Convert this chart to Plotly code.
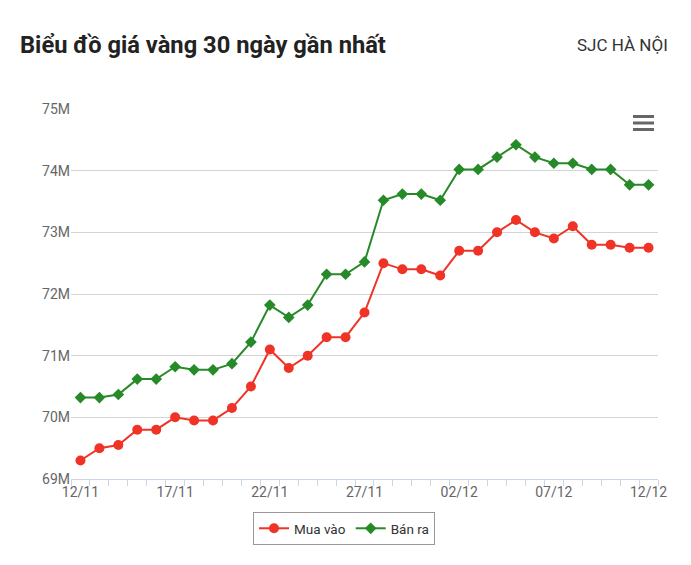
import plotly.graph_objects as go

dates = ["12/11","13/11","14/11","15/11","16/11","17/11","18/11","19/11","20/11","21/11",
         "22/11","23/11","24/11","25/11","26/11","27/11","28/11","29/11","30/11","01/12",
         "02/12","03/12","04/12","05/12","06/12","07/12","08/12","09/12","10/12","11/12","12/12"]
mua_vao = [69.30,69.50,69.55,69.80,69.80,70.00,69.95,69.95,70.15,70.50,
           71.10,70.80,71.00,71.30,71.30,71.70,72.50,72.40,72.40,72.30,
           72.70,72.70,73.00,73.20,73.00,72.90,73.10,72.80,72.80,72.75,72.75]
ban_ra = [70.32,70.32,70.37,70.62,70.62,70.82,70.77,70.77,70.87,71.22,
          71.82,71.62,71.82,72.32,72.32,72.52,73.52,73.62,73.62,73.52,
          74.02,74.02,74.22,74.42,74.22,74.12,74.12,74.02,74.02,73.77,73.77]
y_ticks = [69,70,71,72,73,74,75]
y_labels = ["69M","70M","71M","72M","73M","74M","75M"]

idx = list(range(len(dates)))
label_idx = idx[::5]

W, H = 691, 565
L, R, T, B = 71, 33, 109, 86

fig = go.Figure()
fig.add_trace(go.Scatter(x=idx, y=mua_vao, name="Mua vào", mode="lines+markers",
                         line=dict(color="#ef3326", width=2),
                         marker=dict(symbol="circle", size=10, color="#ef3326"),
                         customdata=dates, hovertemplate="%{customdata}: %{y}M<extra></extra>"))
fig.add_trace(go.Scatter(x=idx, y=ban_ra, name="Bán ra", mode="lines+markers",
                         line=dict(color="#278a28", width=2),
                         marker=dict(symbol="diamond", size=9, color="#278a28"),
                         customdata=dates, hovertemplate="%{customdata}: %{y}M<extra></extra>"))

fig.update_layout(
    width=W, height=H,
    margin=dict(l=L, r=R, t=T, b=B),
    paper_bgcolor="white", plot_bgcolor="white",
    font=dict(family="Roboto", color="#333333"),
    title=dict(text="<b>Biểu đồ giá vàng 30 ngày gần nhất</b>",
               xref="container", x=20/W, xanchor="left",
               yref="container", y=1-45/H, yanchor="middle",
               font=dict(family="Roboto", size=23.7, color="#222222")),
    showlegend=True,
    legend=dict(orientation="h", xref="container", x=344/W, xanchor="center",
                yref="container", y=1-512/H, yanchor="top",
                bordercolor="#999999", borderwidth=1,
                font=dict(family="Roboto", size=13.5, color="#333333"),
                itemwidth=30),
    xaxis=dict(range=[-0.5, len(dates)-0.5], tickmode="array",
               tickvals=label_idx, ticktext=[dates[i] for i in label_idx],
               ticks="", showgrid=False, zeroline=False,
               showline=True, linecolor="#ccd6eb", linewidth=1,
               tickfont=dict(family="Roboto", size=14, color="#666666"),
               minor=dict(ticks="outside", tick0=0.5, dtick=1, ticklen=6,
                          tickcolor="#ccd6eb", showgrid=False)),
    yaxis=dict(range=[69, 75], tickmode="array", tickvals=y_ticks, ticktext=y_labels,
               showgrid=True, gridcolor="#d4d4d4", gridwidth=1,
               zeroline=False, showline=False, ticks="",
               tickfont=dict(family="Roboto", size=14, color="#666666")),
    annotations=[dict(text="SJC HÀ NỘI", xref="paper", yref="paper",
                      x=(670-L)/(W-L-R), y=1+(T-45)/(H-T-B),
                      xanchor="right", yanchor="middle", showarrow=False,
                      font=dict(family="Roboto", size=17, color="#333333"))],
)

plot_h = H - T - B
plot_w = W - L - R
for py in [116.5, 123, 129.5]:
    fig.add_shape(type="line", xref="paper", yref="paper",
                  x0=(633-L)/plot_w, x1=(654-L)/plot_w,
                  y0=(H-B-py)/plot_h, y1=(H-B-py)/plot_h,
                  line=dict(color="#666666", width=3))

fig.write_html("out.html")
